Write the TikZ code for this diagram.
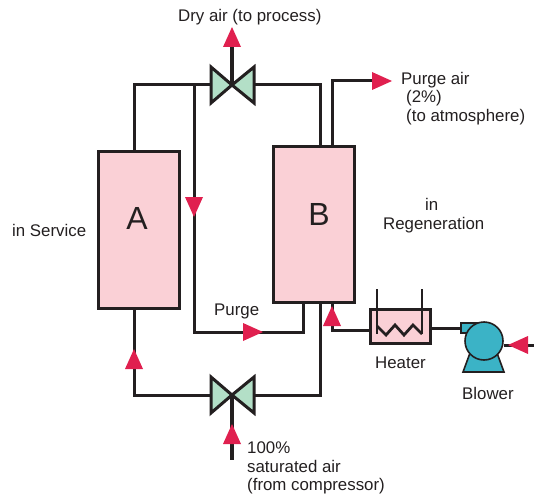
\documentclass[tikz,border=0pt]{standalone}
\usepackage{fontspec}
\setmainfont{Liberation Sans}
\usepackage{tikz}
\usetikzlibrary{positioning}
\definecolor{vesselpink}{HTML}{FAD0D6}
\definecolor{valvegreen}{HTML}{B3DFC7}
\definecolor{tipred}{HTML}{E0204F}
\definecolor{blowerteal}{HTML}{3BB3C6}
\definecolor{inkblack}{HTML}{231F20}
\tikzset{
  pipe/.style={draw=inkblack,line width=3pt,line join=miter},
  thickpipe/.style={draw=inkblack,line width=3.6pt},
  vessel/.style={draw=inkblack,line width=3pt,fill=vesselpink,minimum width=81pt,minimum height=156pt,inner sep=0pt},
  vesselname/.style={inner sep=0pt,font=\fontsize{32}{34}\selectfont,text=inkblack},
  label/.style={inner sep=0pt,font=\fontsize{16.85}{18.4}\selectfont,text=inkblack,align=left},
  flowtip/.pic={\fill[tipred] (-10,-9) -- (10,0) -- (-10,9) -- cycle;},
}
\begin{document}
\begin{tikzpicture}[x=1pt,y=-1pt]
\newcommand{\valve}[3]{
  \coordinate (#1) at (#2,#3);
  \filldraw[draw=inkblack,fill=valvegreen,line width=3pt,line join=miter] (#1) -- (#2-21,#3-18) -- (#2-21,#3+18) -- cycle;
  \filldraw[draw=inkblack,fill=valvegreen,line width=3pt,line join=miter] (#1) -- (#2+22,#3-18) -- (#2+22,#3+18) -- cycle;
}
\useasboundingbox (0,0) rectangle (534,494);

% vessels
\node[vessel] (A) at (138.5,230) {};
\node[vessel] (B) at (313.5,224.5) {};
\node[vesselname] (Aname) at (137,218) {A};
\node[vesselname] (Bname) at (319,214) {B};

% free ends
\coordinate (dryend) at (232,46);
\coordinate (wetend) at (232,460);
\coordinate (purgeend) at (375,81);
\coordinate (purgenode) at (194,85);
\coordinate (purgecorner) at (194,332);
\coordinate (fanend) at (534,345);

% pipes under the valves
\draw[pipe] ([xshift=-4.5]A.north) |- (211,85);
\draw[pipe] (255,85) -| ([xshift=6.5]B.north);
\draw[pipe] ([xshift=18.5]B.north) |- (purgeend);
\draw[pipe] (purgenode) -- (purgecorner) -| ([xshift=-10.5]B.south);
\draw[pipe] ([xshift=-4.5]A.south) |- (211,395);
\draw[pipe] (255,395) -| ([xshift=6.5]B.south);
\draw[thickpipe] (232,85) -- (dryend);
\draw[thickpipe] (232,395) -- (wetend);

\valve{topvalve}{232}{85}
\valve{botvalve}{232}{395}

% heater
\node[draw=inkblack,line width=3pt,fill=vesselpink,minimum width=60pt,minimum height=34pt,inner sep=0pt] (heater) at (400.5,326.7) {};
\draw[pipe] (heater.west |- 0,330) -| ([xshift=18.5]B.south);
\draw[draw=inkblack,line width=2.8pt] (377,289) -- (377,334);
\draw[draw=inkblack,line width=2.8pt] (422,289) -- (422,334);
\draw[draw=inkblack,line width=2.8pt] (377,326) -- (386,335) -- (395,325) -- (404,335) -- (413,325) -- (422,334);

% blower
\node[draw=inkblack,line width=1.6pt,fill=blowerteal,minimum width=19pt,minimum height=10pt,inner sep=0pt] (outlet) at (470.5,328) {};
\draw[pipe] (heater.east |- outlet) -- (outlet);
\filldraw[draw=inkblack,line width=1.6pt,fill=blowerteal] (470,353) -- (463,372) -- (504,372) -- (497,353) -- cycle;
\node[circle,draw=inkblack,line width=1.6pt,fill=blowerteal,minimum size=38pt,inner sep=0pt] (blower) at (484,341) {};
\draw[pipe] (blower.east |- fanend) -- (fanend);

% arrowheads
\pic at (232,37) [rotate=90] {flowtip};
\pic at (232,434) [rotate=90] {flowtip};
\pic at (134,359) [rotate=90] {flowtip};
\pic at (332,316) [rotate=90] {flowtip};
\pic at (194,207) [rotate=-90] {flowtip};
\pic at (253,332) {flowtip};
\pic at (382,81) {flowtip};
\pic at (518,345) [rotate=180] {flowtip};

% labels
\node[label,anchor=base west] (drylabel) at (178,22) {Dry air (to process)};
\node[label,anchor=base west] (purgeairlabel) at (401,85) {Purge air};
\node[label,anchor=base west] (twolabel) at (406,103) {(2\%)};
\node[label,anchor=base west] (atmolabel) at (406,122) {(to atmosphere)};
\node[label,anchor=base west] (servicelabel) at (12,236) {in Service};
\node[label,anchor=base west] (inlabel) at (425,210) {in};
\node[label,anchor=base west] (regenlabel) at (383,229) {Regeneration};
\node[label,anchor=base west] (purgelabel) at (214,315) {Purge};
\node[label,anchor=base west] (heaterlabel) at (375,368) {Heater};
\node[label,anchor=base west] (blowerlabel) at (462,399) {Blower};
\node[label,anchor=base west] (wetlabel) at (247,453) {100\%};
\node[label,anchor=base west] (satlabel) at (247,472) {saturated air};
\node[label,anchor=base west] (fromlabel) at (247,490) {(from compressor)};
\end{tikzpicture}
\end{document}
